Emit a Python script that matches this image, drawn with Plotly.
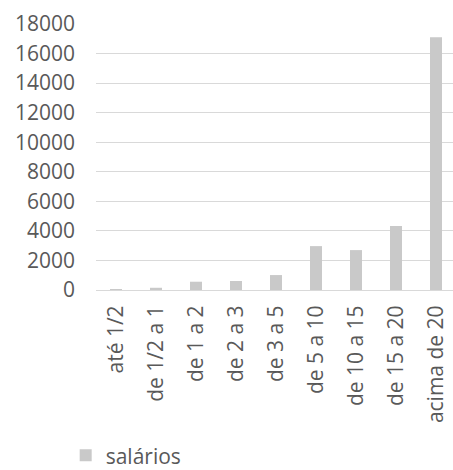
import plotly.graph_objects as go

# Faixas de salário mínimo e valores correspondentes
faixas = ["até 1/2", "de 1/2 a 1", "de 1 a 2", "de 2 a 3", "de 3 a 5",
          "de 5 a 10", "de 10 a 15", "de 15 a 20", "acima de 20"]
salarios = [20, 150, 560, 610, 1010, 2970, 2700, 4330, 17100]
y_ticks = [0, 2000, 4000, 6000, 8000, 10000, 12000, 14000, 16000, 18000]

FONT = "Open Sans, Liberation Sans, sans-serif"
GRAY_TEXT = "#595959"
GRID = "#d9d9d9"

fig = go.Figure(
    go.Bar(
        x=list(range(len(faixas))),
        y=salarios,
        name="salários",
        marker=dict(color="#c9c9c9", line=dict(width=0)),
        width=0.3,
    )
)

fig.update_layout(
    width=453,
    height=470,
    margin=dict(l=96, r=0, t=24, b=180, autoexpand=False),
    paper_bgcolor="white",
    plot_bgcolor="white",
    font=dict(family=FONT, size=21, color=GRAY_TEXT),
    showlegend=True,
    legend=dict(
        orientation="h",
        xref="container",
        yref="container",
        x=0.145,
        y=0.074,
        xanchor="left",
        yanchor="top",
        font=dict(family=FONT, size=21, color=GRAY_TEXT),
        itemwidth=30,
        tracegroupgap=0,
    ),
)

fig.update_xaxes(
    tickmode="array",
    tickvals=list(range(len(faixas))),
    ticktext=faixas,
    tickangle=-90,
    range=[-0.5, 8.425],
    showgrid=False,
    showline=True,
    linecolor=GRID,
    linewidth=1,
    ticks="",
    zeroline=False,
    automargin=False,
    ticklabelstandoff=6,
)

fig.update_yaxes(
    range=[0, 18000],
    tickmode="array",
    tickvals=y_ticks,
    ticktext=[str(v) for v in y_ticks],
    showgrid=True,
    gridcolor=GRID,
    gridwidth=1,
    zeroline=False,
    showline=False,
    ticks="",
    ticklabelstandoff=20,
    automargin=False,
)

fig.write_html("out.html")
